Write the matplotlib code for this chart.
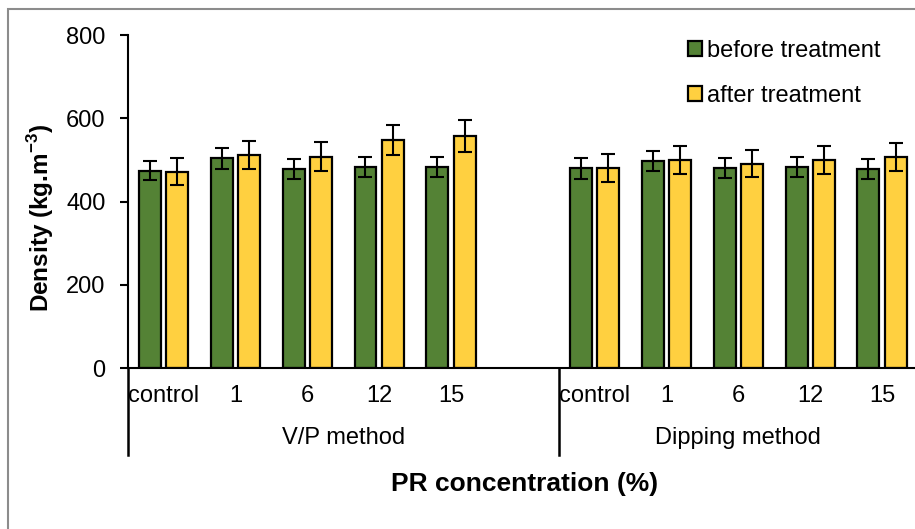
import matplotlib
matplotlib.use("Agg")
import matplotlib.pyplot as plt
import numpy as np
from matplotlib.lines import Line2D
from matplotlib.patches import Rectangle

plt.rcParams["font.family"] = ["Liberation Sans", "DejaVu Sans"]
plt.rcParams["mathtext.fontset"] = "custom"
plt.rcParams["mathtext.rm"] = "Liberation Sans"
plt.rcParams["mathtext.bf"] = "Liberation Sans:bold"

# data
groups = ["V/P method", "Dipping method"]
levels = ["control", "1", "6", "12", "15"]

vp_before = [474, 504, 478, 482, 482]
vp_before_err = [23, 25, 23, 24, 24]
vp_after = [472, 511, 508, 548, 557]
vp_after_err = [32, 34, 34, 37, 38]

dip_before = [480, 497, 480, 483, 478]
dip_before_err = [25, 24, 24, 24, 24]
dip_after = [480, 500, 491, 500, 507]
dip_after_err = [34, 33, 33, 33, 34]

# one empty slot after the V/P group (as in the original sheet)
labels = levels + [""] + levels
before = vp_before + [np.nan] + dip_before
before_err = vp_before_err + [0] + dip_before_err
after = vp_after + [np.nan] + dip_after
after_err = vp_after_err + [0] + dip_after_err

green = "#548235"
yellow = "#FFD040"

fig = plt.figure(figsize=(9.15, 5.29), dpi=100)
ax = fig.add_axes([0.1395, 0.3043, 0.8638, 0.6295])

x = np.arange(len(labels))
w = 0.305
off = 0.19
err_kw = dict(ecolor="black", elinewidth=1.5, capsize=5, capthick=1.5)
ax.bar(x - off, before, w, yerr=before_err, color=green, edgecolor="black",
       linewidth=1.6, label="before treatment", error_kw=err_kw, zorder=2)
ax.bar(x + off, after, w, yerr=after_err, color=yellow, edgecolor="black",
       linewidth=1.6, label="after treatment", error_kw=err_kw, zorder=2)

ax.set_xlim(-0.5, len(labels) - 0.5)
ax.set_ylim(0, 800)
ax.set_yticks([0, 200, 400, 600, 800])
ax.tick_params(axis="y", labelsize=17, direction="out", length=6, width=1.5, pad=10)
ax.set_xticks([])

for s in ["top", "right"]:
    ax.spines[s].set_visible(False)
ax.spines["left"].set_linewidth(1.5)
ax.spines["bottom"].set_linewidth(1.5)

# multi-level category axis
for xi, lab in zip(x, labels):
    ax.text(xi, -0.084, lab, transform=ax.get_xaxis_transform(),
            ha="center", va="center", fontsize=17)

n = len(levels)
bounds = [-0.5, n + 0.5, len(labels) - 0.5]
for b in bounds:
    ax.add_line(Line2D([b, b], [0, -0.261], transform=ax.get_xaxis_transform(),
                       color="black", lw=1.8, clip_on=False))
ax.text((bounds[0] + bounds[1]) / 2, -0.21, groups[0], transform=ax.get_xaxis_transform(),
        ha="center", va="center", fontsize=17)
ax.text((bounds[1] + bounds[2]) / 2, -0.21, groups[1], transform=ax.get_xaxis_transform(),
        ha="center", va="center", fontsize=17)

fig.text(525 / 915, 1 - 484 / 529, "PR concentration (%)", ha="center", va="center",
         fontsize=19, fontweight="bold")
fig.text(41 / 915, 1 - 218 / 529, r"Density (kg.m$^{\mathbf{-3}}$)", rotation=90,
         ha="center", va="center", fontsize=17.5, fontweight="bold")

ax.legend(loc="upper left", bbox_to_anchor=(676 / 915, 1 - 28 / 529),
          bbox_transform=fig.transFigure, frameon=False, fontsize=17,
          handlelength=0.6, handleheight=0.6, handletextpad=0.2,
          labelspacing=0.98, borderpad=0)

# chart area border
fig.patches.append(Rectangle((8 / 915, -0.1), 1.2, 1 - 9 / 529 + 0.1,
                             transform=fig.transFigure, fill=False,
                             edgecolor="#8c8c8c", lw=1.5))

fig.savefig("out.png", dpi=100)
